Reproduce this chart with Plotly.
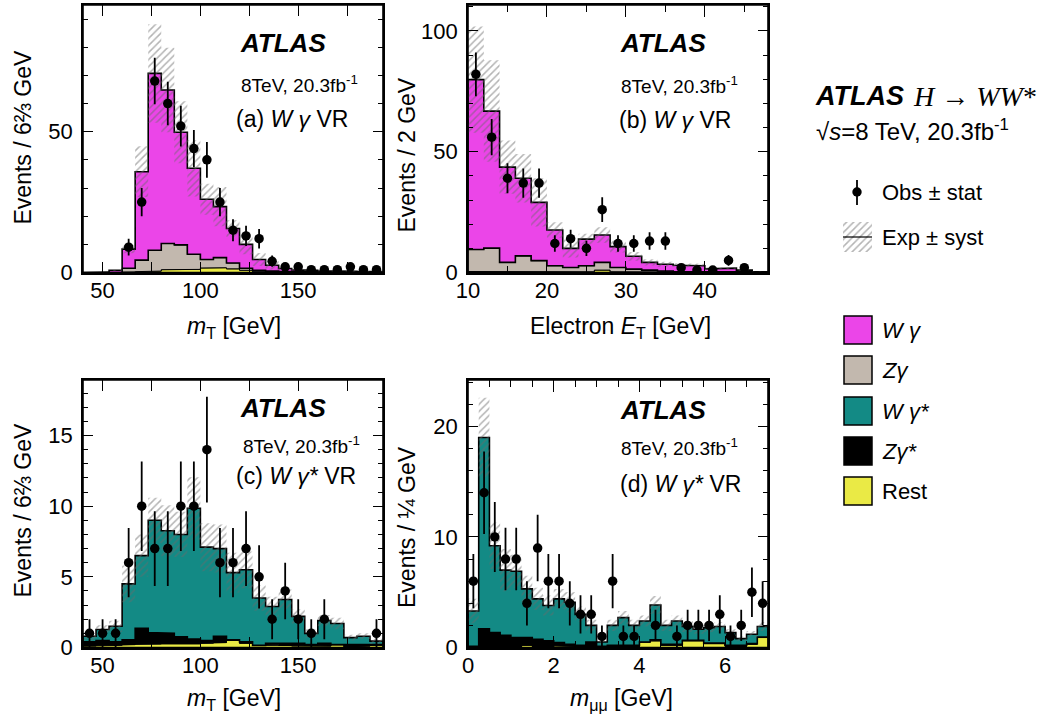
import numpy as np
import plotly.graph_objects as go

W, H = 1045, 715
FONT = "Liberation Sans, Arial, Helvetica, sans-serif"
SERIF = "Liberation Serif, Times New Roman, serif"

# ---------------- data ----------------
# binning
mt_start, mt_width, mt_nbins = 40.0, 20.0 / 3.0, 23
et_start, et_width, et_nbins = 10.0, 2.0, 19
mm_start, mm_width, mm_nbins = 0.0, 0.25, 28

# (a) W gamma VR, mT
wg_a = [0, 0, 0.7, 6.8, 31.4, 62.8, 54.5, 40.0, 30.5, 21.4, 18.1, 12.2, 8.5, 3.8, 2.1, 1.1, 0.8, 0.6, 0.5, 0.4, 0.3, 0.2, 0.25]
zg_a = [0, 0, 0.1, 1.3, 4.1, 7.4, 9.3, 8.7, 5.4, 3.0, 3.6, 2.1, 0.7, 0.5, 0.3, 0.2, 0.1, 0.1, 0.1, 0.1, 0.1, 0.1, 0.05]
rest_a = [0, 0, 0, 0.2, 0.3, 0.5, 1.0, 1.1, 1.1, 1.6, 1.7, 1.3, 0.8, 0.3, 0.2, 0.1, 0.1, 0.1, 0, 0, 0, 0, 0]
syst_a = [0, 0, 0.2, 1.5, 9, 17.5, 15, 11, 10, 5.5, 7, 3, 3.5, 2.3, 1.5, 0.5, 0.3, 0.2, 0.2, 0.1, 0.1, 0.1, 0.1]
obs_a = [0, 0, 0, 9, 25, 68, 60, 52, 44, 40, 25, 15, 13, 12, 4, 2, 2, 1, 1, 1, 2, 1, 1]

# (b) W gamma VR, electron ET
wg_b = [70.3, 56.7, 39.4, 32.1, 24.1, 14.8, 7.9, 11.0, 11.3, 8.6, 5.3, 3.2, 2.8, 2.6, 2.4, 1.2, 1.5, 0.8, 0.2]
zg_b = [9.1, 9.8, 4.0, 6.6, 4.7, 2.6, 2.0, 2.5, 3.2, 1.8, 1.2, 0.9, 0.5, 0.4, 0.4, 0.3, 0.3, 0.2, 0.1]
rest_b = [0.4, 0.3, 0.2, 0.3, 0.2, 0.2, 0.1, 0.3, 1.0, 0.3, 0.2, 0.1, 0.1, 0, 0, 0, 0, 0, 0]
syst_b = [22, 21, 11, 10, 10, 3.2, 3.8, 2.2, 3.2, 2.4, 1.8, 1.3, 1.0, 0.8, 0.8, 0.5, 0.5, 0.3, 0.1]
obs_b = [82, 56, 39, 37, 37, 12, 14, 10, 26, 12, 12, 13, 13, 2, 1, 1, 5, 2, 0]

# (c) W gamma* VR, mT
wgs_c = [0.4, 0.77, 1.1, 3.95, 5.15, 7.95, 7.26, 7.25, 9.25, 6.6, 6.2, 4.75, 5.1, 3.35, 2.6, 3.05, 1.9, 0.8, 1.6, 1.5, 0.55, 0.6, 0.25]
zgs_c = [0.3, 0.35, 0.25, 0.35, 1.1, 0.8, 0.7, 0.45, 0.35, 0.2, 0.45, 0.05, 0.1, 0.0, 0.1, 0.2, 0.2, 0.1, 0.2, 0.0, 0.1, 0.1, 0.05]
rest_c = [0.1, 0.15, 0.15, 0.2, 0.25, 0.25, 0.3, 0.3, 0.25, 0.3, 0.35, 0.5, 0.3, 0.15, 0.2, 0.15, 0.1, 0.1, 0.1, 0.2, 0.05, 0.1, 0.15]
syst_c = [0.3, 0.3, 0.4, 1.3, 1.5, 1.6, 1.8, 1.6, 2.2, 1.7, 1.7, 1.4, 1.3, 0.9, 0.7, 0.7, 0.5, 0.3, 0.4, 0.4, 0.2, 0.2, 0.2]
obs_c = [1, 1, 1, 6, 10, 7, 7, 10, 10, 14, 6, 6, 7, 5, 2, 4, 2, 1, 2, 0, 0, 0, 1]

# (d) W gamma* VR, m_mumu
wgs_d = [3.2, 17.3, 7.85, 5.9, 6.0, 4.4, 3.65, 3.2, 3.95, 3.8, 2.8, 1.5, 0.4, 1.8, 2.5, 1.8, 1.9, 3.15, 1.7, 2.1, 1.25, 1.0, 1.4, 1.5, 1.15, 0.6, 0.85, 0.95]
zgs_d = [0.1, 1.7, 1.35, 1.1, 0.9, 0.7, 0.65, 0.6, 0.3, 0.2, 0.2, 0.5, 0.1, 0.1, 0.1, 0.1, 0.0, 0.1, 0.1, 0.1, 0.05, 0.05, 0.05, 0.05, 0.1, 0.1, 0.05, 0.05]
rest_d = [0, 0, 0, 0, 0, 0.2, 0.1, 0, 0.15, 0.1, 0, 0, 0, 0.1, 0.1, 0.1, 0.5, 0.6, 0.2, 0.2, 0.6, 0.6, 0.35, 0.35, 0.1, 0.1, 0.3, 0.9]
syst_d = [1.1, 3.6, 2.1, 1.9, 1.5, 1.2, 1.0, 0.9, 0.9, 0.9, 0.7, 0.5, 0.2, 0.5, 0.6, 0.5, 0.5, 0.8, 0.5, 0.5, 0.5, 0.4, 0.4, 0.4, 0.3, 0.2, 0.3, 0.4]
obs_d = [6, 14, 10, 8, 8, 4, 9, 6, 6, 4, 3, 3, 1, 6, 1, 1, 0, 2, 0, 1, 2, 2, 2, 3, 1, 2, 5, 4]

legend_names = ["<i>W γ</i>", "<i>Zγ</i>", "<i>W γ*</i>", "<i>Zγ*</i>", "Rest"]

# ---------------- style ----------------
C_WG = "#EB45E8"
C_ZG = "#C2B8AE"
C_WGS = "#138A85"
C_ZGS = "#000000"
C_REST = "#EAEA45"
legend_colors = [C_WG, C_ZG, C_WGS, C_ZGS, C_REST]
HATCH = dict(shape="/", fgcolor="#6a6a6a", bgcolor="rgba(0,0,0,0)", size=5, solidity=0.3)


def px2paper_x(x):
    return x / W


def px2paper_y(y):
    return 1 - y / H


def edges_of(start, width, n):
    return [start + i * width for i in range(n + 1)]


def step_path(edges, vals):
    xs, ys = [], []
    for i, v in enumerate(vals):
        xs += [edges[i], edges[i + 1]]
        ys += [v, v]
    return xs, ys


def band_poly(edges, lower, upper):
    xu, yu = step_path(edges, upper)
    xl, yl = step_path(edges, lower)
    return xu + xl[::-1] + [xu[0]], yu + yl[::-1] + [yu[0]]


panels = [
    dict(xa="x", ya="y", px=(83, 383), py=(5, 272.5),
         edges=edges_of(mt_start, mt_width, mt_nbins), xr=(mt_start, mt_start + mt_nbins * mt_width), yr=(0, 95),
         comps=[(rest_a, C_REST), (zg_a, C_ZG), (wg_a, C_WG)], syst=syst_a, obs=obs_a,
         xdt=50, xmin=25, xlen=(11, 11), ydt=50, ymin=10,
         ytitle="Events / 6⅔ GeV", ytx=22.5, yty=137,
         xtitle="<i>m</i><sub>T</sub> [GeV]", xtx=234, xty=327,
         atlas=(328, 42.5), energy=(360, 83.5), label=("(a) <i>W γ</i> VR", 350, 119)),
    dict(xa="x2", ya="y2", px=(468, 768), py=(5, 272.5),
         edges=edges_of(et_start, et_width, et_nbins), xr=(et_start, et_start + et_nbins * et_width), yr=(0, 110.7),
         comps=[(rest_b, C_REST), (zg_b, C_ZG), (wg_b, C_WG)], syst=syst_b, obs=obs_b,
         xdt=10, xmin=5, xlen=(12, 7), ydt=50, ymin=10,
         ytitle="Events / 2 GeV", ytx=406.5, yty=155,
         xtitle="Electron <i>E</i><sub>T</sub> [GeV]", xtx=620, xty=327,
         atlas=(708, 42.5), energy=(740, 85), label=("(b) <i>W γ</i> VR", 733, 120)),
    dict(xa="x3", ya="y3", px=(83, 383), py=(380, 647.5),
         edges=edges_of(mt_start, mt_width, mt_nbins), xr=(mt_start, mt_start + mt_nbins * mt_width), yr=(0, 18.93),
         comps=[(rest_c, C_REST), (zgs_c, C_ZGS), (wgs_c, C_WGS)], syst=syst_c, obs=obs_c,
         xdt=50, xmin=25, xlen=(11, 11), ydt=5, ymin=1,
         ytitle="Events / 6⅔ GeV", ytx=22.5, yty=510,
         xtitle="<i>m</i><sub>T</sub> [GeV]", xtx=234, xty=699,
         atlas=(328, 407.5), energy=(362, 445), label=("(c) <i>W γ*</i> VR", 358, 476)),
    dict(xa="x4", ya="y4", px=(468, 768), py=(380, 647.5),
         edges=edges_of(mm_start, mm_width, mm_nbins), xr=(mm_start, mm_start + mm_nbins * mm_width), yr=(0, 24.2),
         comps=[(rest_d, C_REST), (zgs_d, C_ZGS), (wgs_d, C_WGS)], syst=syst_d, obs=obs_d,
         xdt=2, xmin=0.5, xlen=(12, 7), ydt=10, ymin=2,
         ytitle="Events / ¼ GeV", ytx=407, yty=527,
         xtitle="<i>m</i><sub>μμ</sub> [GeV]", xtx=621, xty=699,
         atlas=(708, 409.5), energy=(740, 447.5), label=("(d) <i>W γ*</i> VR", 743, 483.5)),
]

fig = go.Figure()
annotations = []
shapes = []
layout_axes = {}

for i, p in enumerate(panels):
    edges = p["edges"]
    n = len(edges) - 1
    lower = np.zeros(n)
    ncomp = len(p["comps"])
    for j, (vals, col) in enumerate(p["comps"]):
        upper = lower + np.array(vals, dtype=float)
        xs, ys = band_poly(edges, list(lower), list(upper))
        fig.add_trace(go.Scatter(
            x=xs, y=ys, xaxis=p["xa"], yaxis=p["ya"], mode="lines", fill="toself",
            fillcolor=col, line=dict(color="black", width=1.6 if j == ncomp - 1 else 1.0),
            hoverinfo="skip", showlegend=False))
        lower = upper
    total = lower
    syst = np.array(p["syst"], dtype=float)
    xs, ys = band_poly(edges, list(total - syst), list(total + syst))
    fig.add_trace(go.Scatter(
        x=xs, y=ys, xaxis=p["xa"], yaxis=p["ya"], mode="lines", fill="toself",
        fillcolor="rgba(0,0,0,0)", fillpattern=HATCH, line=dict(width=0),
        hoverinfo="skip", showlegend=False))
    obs = np.array(p["obs"], dtype=float)
    centers = [(edges[k] + edges[k + 1]) / 2 for k in range(n)]
    yobs = [v if v > 0 else None for v in obs]
    err = [np.sqrt(v) if v > 0 else None for v in obs]
    fig.add_trace(go.Scatter(
        x=centers, y=yobs, xaxis=p["xa"], yaxis=p["ya"], mode="markers",
        marker=dict(color="black", size=9.5),
        error_y=dict(type="data", array=err, visible=True, width=0, thickness=1.8, color="black"),
        hoverinfo="skip", showlegend=False))

    suffix = "" if i == 0 else str(i + 1)
    xdom = [px2paper_x(p["px"][0]), px2paper_x(p["px"][1])]
    ydom = [px2paper_y(p["py"][1]), px2paper_y(p["py"][0])]
    common = dict(showline=True, linecolor="black", linewidth=1.6, mirror="ticks",
                  ticks="inside", tickcolor="black", tickwidth=1.3,
                  showgrid=False, zeroline=False, fixedrange=True, automargin=False,
                  tickfont=dict(family=FONT, size=22, color="black"))
    layout_axes["xaxis" + suffix] = dict(
        common, domain=xdom, range=list(p["xr"]), anchor="y" + suffix,
        tick0=0, dtick=p["xdt"], ticklen=p["xlen"][0], ticklabelstandoff=-3,
        minor=dict(ticks="inside", dtick=p["xmin"], tick0=0, ticklen=p["xlen"][1],
                   tickwidth=1.2, tickcolor="black", showgrid=False))
    layout_axes["yaxis" + suffix] = dict(
        common, domain=ydom, range=list(p["yr"]), anchor="x" + suffix,
        tick0=0, dtick=p["ydt"], ticklen=10, ticklabelstandoff=4,
        minor=dict(ticks="inside", dtick=p["ymin"], tick0=0, ticklen=5,
                   tickwidth=1.2, tickcolor="black", showgrid=False))

    # frame (closed box of each panel)
    shapes.append(dict(type="rect", xref=p["xa"] + " domain", yref=p["ya"] + " domain",
                       x0=0, x1=1, y0=0, y1=1, line=dict(color="black", width=1.6),
                       fillcolor="rgba(0,0,0,0)", layer="above"))

    # axis titles
    annotations.append(dict(text=p["ytitle"], x=px2paper_x(p["ytx"]), y=px2paper_y(p["yty"]),
                            xref="paper", yref="paper", textangle=-90, showarrow=False,
                            xanchor="center", yanchor="middle",
                            font=dict(family=FONT, size=23, color="black")))
    annotations.append(dict(text=p["xtitle"], x=px2paper_x(p["xtx"]), y=px2paper_y(p["xty"]),
                            xref="paper", yref="paper", showarrow=False,
                            xanchor="center", yanchor="middle",
                            font=dict(family=FONT, size=23, color="black")))
    # in-panel labels
    annotations.append(dict(text="<b><i>ATLAS</i></b>", x=px2paper_x(p["atlas"][0]), y=px2paper_y(p["atlas"][1]),
                            xref="paper", yref="paper", showarrow=False, xanchor="right", yanchor="middle",
                            font=dict(family=FONT, size=26, color="black")))
    annotations.append(dict(text="8TeV, 20.3fb<sup>-1</sup>", x=px2paper_x(p["energy"][0]), y=px2paper_y(p["energy"][1]),
                            xref="paper", yref="paper", showarrow=False, xanchor="right", yanchor="middle",
                            font=dict(family=FONT, size=19, color="black")))
    annotations.append(dict(text=p["label"][0], x=px2paper_x(p["label"][1]), y=px2paper_y(p["label"][2]),
                            xref="paper", yref="paper", showarrow=False, xanchor="right", yanchor="middle",
                            font=dict(family=FONT, size=23, color="black")))

# ---------------- legend area (pixel coordinates on a hidden axis) ----------------
layout_axes["xaxis5"] = dict(domain=[800 / W, 1.0], range=[800, W], visible=False, fixedrange=True, anchor="y5")
layout_axes["yaxis5"] = dict(domain=[0.0, 1.0], range=[H, 0], visible=False, fixedrange=True, anchor="x5")

# Exp +- syst icon (hatched)
fig.add_trace(go.Scatter(x=[843, 872, 872, 843, 843], y=[222, 222, 252, 252, 222], xaxis="x5", yaxis="y5",
                         mode="lines", fill="toself", fillcolor="rgba(0,0,0,0)", fillpattern=HATCH,
                         line=dict(width=0), hoverinfo="skip", showlegend=False))
shapes.append(dict(type="line", xref="x5", yref="y5", x0=843, x1=872, y0=237, y1=237,
                   line=dict(color="black", width=1.2)))
# Obs icon
shapes.append(dict(type="line", xref="x5", yref="y5", x0=857, x1=857, y0=180, y1=205,
                   line=dict(color="black", width=1.8)))
shapes.append(dict(type="circle", xref="x5", yref="y5", x0=852.3, x1=861.7, y0=187.3, y1=196.7,
                   fillcolor="black", line=dict(color="black", width=0)))

annotations.append(dict(text="Obs ± stat", x=880, y=192, xref="x5", yref="y5", showarrow=False,
                        xanchor="left", yanchor="middle", font=dict(family=FONT, size=22, color="black")))
annotations.append(dict(text="Exp ± syst", x=880, y=237, xref="x5", yref="y5", showarrow=False,
                        xanchor="left", yanchor="middle", font=dict(family=FONT, size=22, color="black")))

box_tops = [316, 356, 397, 437, 477]
for name, col, top in zip(legend_names, legend_colors, box_tops):
    shapes.append(dict(type="rect", xref="x5", yref="y5", x0=844, x1=872, y0=top, y1=top + 28,
                       fillcolor=col, line=dict(color="black", width=1.5)))
    annotations.append(dict(text=name, x=880, y=top + 14, xref="x5", yref="y5", showarrow=False,
                            xanchor="left", yanchor="middle", font=dict(family=FONT, size=22, color="black")))

annotations.append(dict(text="<b><i>ATLAS</i></b>", x=813, y=96, xref="x5", yref="y5", showarrow=False,
                        xanchor="left", yanchor="middle", font=dict(family=FONT, size=27, color="black")))
annotations.append(dict(text="<i>H</i> → <i>WW</i>*", x=911, y=96, xref="x5", yref="y5", showarrow=False,
                        xanchor="left", yanchor="middle", font=dict(family=SERIF, size=28, color="black")))
annotations.append(dict(text="√<i>s</i>=8 TeV, 20.3fb<sup>-1</sup>", x=814, y=130, xref="x5", yref="y5",
                        showarrow=False, xanchor="left", yanchor="middle",
                        font=dict(family=FONT, size=24, color="black")))

fig.update_layout(
    width=W, height=H,
    margin=dict(l=0, r=0, t=0, b=0, pad=0),
    paper_bgcolor="white", plot_bgcolor="white",
    showlegend=False,
    annotations=annotations,
    shapes=shapes,
    **layout_axes,
)

fig.write_html("out.html", config={"responsive": False, "displayModeBar": False},
               post_script="document.body.style.margin='0px';document.body.style.padding='0px';"
                           "document.body.style.overflow='hidden';")
